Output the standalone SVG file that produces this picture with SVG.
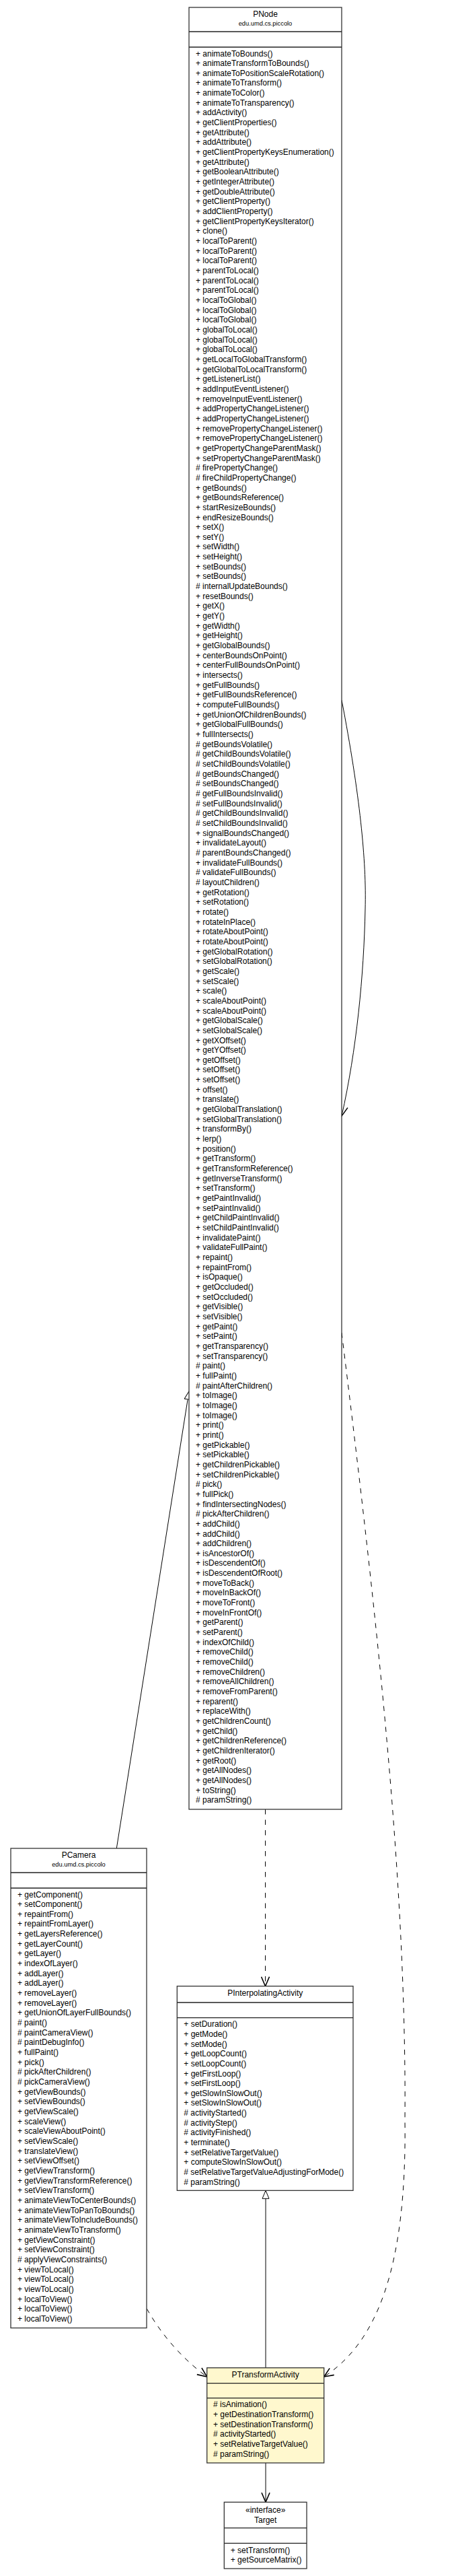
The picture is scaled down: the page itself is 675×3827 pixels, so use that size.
<svg xmlns="http://www.w3.org/2000/svg" width="675" height="3827" viewBox="0 0 675 3827">
<style>
text{font-family:"Liberation Sans",Arial,sans-serif;font-size:12px;fill:#000}
.t{text-anchor:middle}
.pkg{font-size:9.3px;text-anchor:middle}
.box{fill:#fff;stroke:#333;stroke-width:1.3}
.hl{fill:#FFF8CE}
.div{stroke:#222;stroke-width:1.3}
.ln{fill:none;stroke:#000;stroke-width:1}
.dash{stroke-dasharray:7.5,8}
</style>
<defs>
<marker id="gen" viewBox="0 0 13 12" refX="12.5" refY="6" markerWidth="13" markerHeight="12" orient="auto" markerUnits="userSpaceOnUse"><path d="M0.5,1 L12.5,6 L0.5,11 Z" fill="#fff" stroke="#000" stroke-width="1"/></marker>
<marker id="arr" viewBox="-1 -1 16 14" refX="14" refY="6" markerWidth="16" markerHeight="14" orient="auto" markerUnits="userSpaceOnUse"><path d="M0,0 L14,6 L0,12" fill="none" stroke="#000" stroke-width="1.6"/></marker>
</defs>

<g id="connectors">
<path class="ln" d="M508,1040 C535,1180 545,1280 543,1350 C541,1450 530,1560 508,1658" marker-end="url(#arr)"/>
<path class="ln" d="M173.3,2746 L281,2067" marker-end="url(#gen)"/>
<path class="ln dash" d="M394.5,2688 L394.5,2950.7" marker-end="url(#arr)"/>
<path class="ln dash" d="M508,1980 C560,2400 605,2800 602,3150 C605,3370 560,3480 481.7,3531" marker-end="url(#arr)"/>
<path class="ln dash" d="M218.3,3430 C235,3460 265,3500 307.7,3531" marker-end="url(#arr)"/>
<path class="ln" d="M395,3517.7 L395,3254.3" marker-end="url(#gen)"/>
<path class="ln" d="M395,3659 L395,3717.3" marker-end="url(#arr)"/>
</g>

<g id="PNode">
<rect class="box" x="281" y="11" width="227" height="2677"/>
<line class="div" x1="281" y1="47" x2="508" y2="47"/>
<line class="div" x1="281" y1="70" x2="508" y2="70"/>
<text class="t" x="394.5" y="25">PNode</text>
<text class="pkg" x="394.5" y="38">edu.umd.cs.piccolo</text>
<text x="291" y="83.5"><tspan x="291" dy="0">+ animateToBounds()</tspan><tspan x="291" dy="14.66">+ animateTransformToBounds()</tspan><tspan x="291" dy="14.66">+ animateToPositionScaleRotation()</tspan><tspan x="291" dy="14.66">+ animateToTransform()</tspan><tspan x="291" dy="14.66">+ animateToColor()</tspan><tspan x="291" dy="14.66">+ animateToTransparency()</tspan><tspan x="291" dy="14.66">+ addActivity()</tspan><tspan x="291" dy="14.66">+ getClientProperties()</tspan><tspan x="291" dy="14.66">+ getAttribute()</tspan><tspan x="291" dy="14.66">+ addAttribute()</tspan><tspan x="291" dy="14.66">+ getClientPropertyKeysEnumeration()</tspan><tspan x="291" dy="14.66">+ getAttribute()</tspan><tspan x="291" dy="14.66">+ getBooleanAttribute()</tspan><tspan x="291" dy="14.66">+ getIntegerAttribute()</tspan><tspan x="291" dy="14.66">+ getDoubleAttribute()</tspan><tspan x="291" dy="14.66">+ getClientProperty()</tspan><tspan x="291" dy="14.66">+ addClientProperty()</tspan><tspan x="291" dy="14.66">+ getClientPropertyKeysIterator()</tspan><tspan x="291" dy="14.66">+ clone()</tspan><tspan x="291" dy="14.66">+ localToParent()</tspan><tspan x="291" dy="14.66">+ localToParent()</tspan><tspan x="291" dy="14.66">+ localToParent()</tspan><tspan x="291" dy="14.66">+ parentToLocal()</tspan><tspan x="291" dy="14.66">+ parentToLocal()</tspan><tspan x="291" dy="14.66">+ parentToLocal()</tspan><tspan x="291" dy="14.66">+ localToGlobal()</tspan><tspan x="291" dy="14.66">+ localToGlobal()</tspan><tspan x="291" dy="14.66">+ localToGlobal()</tspan><tspan x="291" dy="14.66">+ globalToLocal()</tspan><tspan x="291" dy="14.66">+ globalToLocal()</tspan><tspan x="291" dy="14.66">+ globalToLocal()</tspan><tspan x="291" dy="14.66">+ getLocalToGlobalTransform()</tspan><tspan x="291" dy="14.66">+ getGlobalToLocalTransform()</tspan><tspan x="291" dy="14.66">+ getListenerList()</tspan><tspan x="291" dy="14.66">+ addInputEventListener()</tspan><tspan x="291" dy="14.66">+ removeInputEventListener()</tspan><tspan x="291" dy="14.66">+ addPropertyChangeListener()</tspan><tspan x="291" dy="14.66">+ addPropertyChangeListener()</tspan><tspan x="291" dy="14.66">+ removePropertyChangeListener()</tspan><tspan x="291" dy="14.66">+ removePropertyChangeListener()</tspan><tspan x="291" dy="14.66">+ getPropertyChangeParentMask()</tspan><tspan x="291" dy="14.66">+ setPropertyChangeParentMask()</tspan><tspan x="291" dy="14.66"># firePropertyChange()</tspan><tspan x="291" dy="14.66"># fireChildPropertyChange()</tspan><tspan x="291" dy="14.66">+ getBounds()</tspan><tspan x="291" dy="14.66">+ getBoundsReference()</tspan><tspan x="291" dy="14.66">+ startResizeBounds()</tspan><tspan x="291" dy="14.66">+ endResizeBounds()</tspan><tspan x="291" dy="14.66">+ setX()</tspan><tspan x="291" dy="14.66">+ setY()</tspan><tspan x="291" dy="14.66">+ setWidth()</tspan><tspan x="291" dy="14.66">+ setHeight()</tspan><tspan x="291" dy="14.66">+ setBounds()</tspan><tspan x="291" dy="14.66">+ setBounds()</tspan><tspan x="291" dy="14.66"># internalUpdateBounds()</tspan><tspan x="291" dy="14.66">+ resetBounds()</tspan><tspan x="291" dy="14.66">+ getX()</tspan><tspan x="291" dy="14.66">+ getY()</tspan><tspan x="291" dy="14.66">+ getWidth()</tspan><tspan x="291" dy="14.66">+ getHeight()</tspan><tspan x="291" dy="14.66">+ getGlobalBounds()</tspan><tspan x="291" dy="14.66">+ centerBoundsOnPoint()</tspan><tspan x="291" dy="14.66">+ centerFullBoundsOnPoint()</tspan><tspan x="291" dy="14.66">+ intersects()</tspan><tspan x="291" dy="14.66">+ getFullBounds()</tspan><tspan x="291" dy="14.66">+ getFullBoundsReference()</tspan><tspan x="291" dy="14.66">+ computeFullBounds()</tspan><tspan x="291" dy="14.66">+ getUnionOfChildrenBounds()</tspan><tspan x="291" dy="14.66">+ getGlobalFullBounds()</tspan><tspan x="291" dy="14.66">+ fullIntersects()</tspan><tspan x="291" dy="14.66"># getBoundsVolatile()</tspan><tspan x="291" dy="14.66"># getChildBoundsVolatile()</tspan><tspan x="291" dy="14.66"># setChildBoundsVolatile()</tspan><tspan x="291" dy="14.66"># getBoundsChanged()</tspan><tspan x="291" dy="14.66"># setBoundsChanged()</tspan><tspan x="291" dy="14.66"># getFullBoundsInvalid()</tspan><tspan x="291" dy="14.66"># setFullBoundsInvalid()</tspan><tspan x="291" dy="14.66"># getChildBoundsInvalid()</tspan><tspan x="291" dy="14.66"># setChildBoundsInvalid()</tspan><tspan x="291" dy="14.66">+ signalBoundsChanged()</tspan><tspan x="291" dy="14.66">+ invalidateLayout()</tspan><tspan x="291" dy="14.66"># parentBoundsChanged()</tspan><tspan x="291" dy="14.66">+ invalidateFullBounds()</tspan><tspan x="291" dy="14.66"># validateFullBounds()</tspan><tspan x="291" dy="14.66"># layoutChildren()</tspan><tspan x="291" dy="14.66">+ getRotation()</tspan><tspan x="291" dy="14.66">+ setRotation()</tspan><tspan x="291" dy="14.66">+ rotate()</tspan><tspan x="291" dy="14.66">+ rotateInPlace()</tspan><tspan x="291" dy="14.66">+ rotateAboutPoint()</tspan><tspan x="291" dy="14.66">+ rotateAboutPoint()</tspan><tspan x="291" dy="14.66">+ getGlobalRotation()</tspan><tspan x="291" dy="14.66">+ setGlobalRotation()</tspan><tspan x="291" dy="14.66">+ getScale()</tspan><tspan x="291" dy="14.66">+ setScale()</tspan><tspan x="291" dy="14.66">+ scale()</tspan><tspan x="291" dy="14.66">+ scaleAboutPoint()</tspan><tspan x="291" dy="14.66">+ scaleAboutPoint()</tspan><tspan x="291" dy="14.66">+ getGlobalScale()</tspan><tspan x="291" dy="14.66">+ setGlobalScale()</tspan><tspan x="291" dy="14.66">+ getXOffset()</tspan><tspan x="291" dy="14.66">+ getYOffset()</tspan><tspan x="291" dy="14.66">+ getOffset()</tspan><tspan x="291" dy="14.66">+ setOffset()</tspan><tspan x="291" dy="14.66">+ setOffset()</tspan><tspan x="291" dy="14.66">+ offset()</tspan><tspan x="291" dy="14.66">+ translate()</tspan><tspan x="291" dy="14.66">+ getGlobalTranslation()</tspan><tspan x="291" dy="14.66">+ setGlobalTranslation()</tspan><tspan x="291" dy="14.66">+ transformBy()</tspan><tspan x="291" dy="14.66">+ lerp()</tspan><tspan x="291" dy="14.66">+ position()</tspan><tspan x="291" dy="14.66">+ getTransform()</tspan><tspan x="291" dy="14.66">+ getTransformReference()</tspan><tspan x="291" dy="14.66">+ getInverseTransform()</tspan><tspan x="291" dy="14.66">+ setTransform()</tspan><tspan x="291" dy="14.66">+ getPaintInvalid()</tspan><tspan x="291" dy="14.66">+ setPaintInvalid()</tspan><tspan x="291" dy="14.66">+ getChildPaintInvalid()</tspan><tspan x="291" dy="14.66">+ setChildPaintInvalid()</tspan><tspan x="291" dy="14.66">+ invalidatePaint()</tspan><tspan x="291" dy="14.66">+ validateFullPaint()</tspan><tspan x="291" dy="14.66">+ repaint()</tspan><tspan x="291" dy="14.66">+ repaintFrom()</tspan><tspan x="291" dy="14.66">+ isOpaque()</tspan><tspan x="291" dy="14.66">+ getOccluded()</tspan><tspan x="291" dy="14.66">+ setOccluded()</tspan><tspan x="291" dy="14.66">+ getVisible()</tspan><tspan x="291" dy="14.66">+ setVisible()</tspan><tspan x="291" dy="14.66">+ getPaint()</tspan><tspan x="291" dy="14.66">+ setPaint()</tspan><tspan x="291" dy="14.66">+ getTransparency()</tspan><tspan x="291" dy="14.66">+ setTransparency()</tspan><tspan x="291" dy="14.66"># paint()</tspan><tspan x="291" dy="14.66">+ fullPaint()</tspan><tspan x="291" dy="14.66"># paintAfterChildren()</tspan><tspan x="291" dy="14.66">+ toImage()</tspan><tspan x="291" dy="14.66">+ toImage()</tspan><tspan x="291" dy="14.66">+ toImage()</tspan><tspan x="291" dy="14.66">+ print()</tspan><tspan x="291" dy="14.66">+ print()</tspan><tspan x="291" dy="14.66">+ getPickable()</tspan><tspan x="291" dy="14.66">+ setPickable()</tspan><tspan x="291" dy="14.66">+ getChildrenPickable()</tspan><tspan x="291" dy="14.66">+ setChildrenPickable()</tspan><tspan x="291" dy="14.66"># pick()</tspan><tspan x="291" dy="14.66">+ fullPick()</tspan><tspan x="291" dy="14.66">+ findIntersectingNodes()</tspan><tspan x="291" dy="14.66"># pickAfterChildren()</tspan><tspan x="291" dy="14.66">+ addChild()</tspan><tspan x="291" dy="14.66">+ addChild()</tspan><tspan x="291" dy="14.66">+ addChildren()</tspan><tspan x="291" dy="14.66">+ isAncestorOf()</tspan><tspan x="291" dy="14.66">+ isDescendentOf()</tspan><tspan x="291" dy="14.66">+ isDescendentOfRoot()</tspan><tspan x="291" dy="14.66">+ moveToBack()</tspan><tspan x="291" dy="14.66">+ moveInBackOf()</tspan><tspan x="291" dy="14.66">+ moveToFront()</tspan><tspan x="291" dy="14.66">+ moveInFrontOf()</tspan><tspan x="291" dy="14.66">+ getParent()</tspan><tspan x="291" dy="14.66">+ setParent()</tspan><tspan x="291" dy="14.66">+ indexOfChild()</tspan><tspan x="291" dy="14.66">+ removeChild()</tspan><tspan x="291" dy="14.66">+ removeChild()</tspan><tspan x="291" dy="14.66">+ removeChildren()</tspan><tspan x="291" dy="14.66">+ removeAllChildren()</tspan><tspan x="291" dy="14.66">+ removeFromParent()</tspan><tspan x="291" dy="14.66">+ reparent()</tspan><tspan x="291" dy="14.66">+ replaceWith()</tspan><tspan x="291" dy="14.66">+ getChildrenCount()</tspan><tspan x="291" dy="14.66">+ getChild()</tspan><tspan x="291" dy="14.66">+ getChildrenReference()</tspan><tspan x="291" dy="14.66">+ getChildrenIterator()</tspan><tspan x="291" dy="14.66">+ getRoot()</tspan><tspan x="291" dy="14.66">+ getAllNodes()</tspan><tspan x="291" dy="14.66">+ getAllNodes()</tspan><tspan x="291" dy="14.66">+ toString()</tspan><tspan x="291" dy="14.66"># paramString()</tspan></text>
</g>

<g id="PCamera">
<rect class="box" x="16" y="2746" width="202" height="712.5"/>
<line class="div" x1="16" y1="2782" x2="218" y2="2782"/>
<line class="div" x1="16" y1="2805" x2="218" y2="2805"/>
<text class="t" x="117" y="2760.3">PCamera</text>
<text class="pkg" x="117" y="2773">edu.umd.cs.piccolo</text>
<text x="26" y="2818.5"><tspan x="26" dy="0">+ getComponent()</tspan><tspan x="26" dy="14.66">+ setComponent()</tspan><tspan x="26" dy="14.66">+ repaintFrom()</tspan><tspan x="26" dy="14.66">+ repaintFromLayer()</tspan><tspan x="26" dy="14.66">+ getLayersReference()</tspan><tspan x="26" dy="14.66">+ getLayerCount()</tspan><tspan x="26" dy="14.66">+ getLayer()</tspan><tspan x="26" dy="14.66">+ indexOfLayer()</tspan><tspan x="26" dy="14.66">+ addLayer()</tspan><tspan x="26" dy="14.66">+ addLayer()</tspan><tspan x="26" dy="14.66">+ removeLayer()</tspan><tspan x="26" dy="14.66">+ removeLayer()</tspan><tspan x="26" dy="14.66">+ getUnionOfLayerFullBounds()</tspan><tspan x="26" dy="14.66"># paint()</tspan><tspan x="26" dy="14.66"># paintCameraView()</tspan><tspan x="26" dy="14.66"># paintDebugInfo()</tspan><tspan x="26" dy="14.66">+ fullPaint()</tspan><tspan x="26" dy="14.66">+ pick()</tspan><tspan x="26" dy="14.66"># pickAfterChildren()</tspan><tspan x="26" dy="14.66"># pickCameraView()</tspan><tspan x="26" dy="14.66">+ getViewBounds()</tspan><tspan x="26" dy="14.66">+ setViewBounds()</tspan><tspan x="26" dy="14.66">+ getViewScale()</tspan><tspan x="26" dy="14.66">+ scaleView()</tspan><tspan x="26" dy="14.66">+ scaleViewAboutPoint()</tspan><tspan x="26" dy="14.66">+ setViewScale()</tspan><tspan x="26" dy="14.66">+ translateView()</tspan><tspan x="26" dy="14.66">+ setViewOffset()</tspan><tspan x="26" dy="14.66">+ getViewTransform()</tspan><tspan x="26" dy="14.66">+ getViewTransformReference()</tspan><tspan x="26" dy="14.66">+ setViewTransform()</tspan><tspan x="26" dy="14.66">+ animateViewToCenterBounds()</tspan><tspan x="26" dy="14.66">+ animateViewToPanToBounds()</tspan><tspan x="26" dy="14.66">+ animateViewToIncludeBounds()</tspan><tspan x="26" dy="14.66">+ animateViewToTransform()</tspan><tspan x="26" dy="14.66">+ getViewConstraint()</tspan><tspan x="26" dy="14.66">+ setViewConstraint()</tspan><tspan x="26" dy="14.66"># applyViewConstraints()</tspan><tspan x="26" dy="14.66">+ viewToLocal()</tspan><tspan x="26" dy="14.66">+ viewToLocal()</tspan><tspan x="26" dy="14.66">+ viewToLocal()</tspan><tspan x="26" dy="14.66">+ localToView()</tspan><tspan x="26" dy="14.66">+ localToView()</tspan><tspan x="26" dy="14.66">+ localToView()</tspan></text>
</g>

<g id="PInterpolatingActivity">
<rect class="box" x="263.3" y="2950.7" width="261.7" height="303.6"/>
<line class="div" x1="263.3" y1="2975" x2="525" y2="2975"/>
<line class="div" x1="263.3" y1="2997.7" x2="525" y2="2997.7"/>
<text class="t" x="394.2" y="2965.3">PInterpolatingActivity</text>
<text x="273.3" y="3011.2"><tspan x="273.3" dy="0">+ setDuration()</tspan><tspan x="273.3" dy="14.66">+ getMode()</tspan><tspan x="273.3" dy="14.66">+ setMode()</tspan><tspan x="273.3" dy="14.66">+ getLoopCount()</tspan><tspan x="273.3" dy="14.66">+ setLoopCount()</tspan><tspan x="273.3" dy="14.66">+ getFirstLoop()</tspan><tspan x="273.3" dy="14.66">+ setFirstLoop()</tspan><tspan x="273.3" dy="14.66">+ getSlowInSlowOut()</tspan><tspan x="273.3" dy="14.66">+ setSlowInSlowOut()</tspan><tspan x="273.3" dy="14.66"># activityStarted()</tspan><tspan x="273.3" dy="14.66"># activityStep()</tspan><tspan x="273.3" dy="14.66"># activityFinished()</tspan><tspan x="273.3" dy="14.66">+ terminate()</tspan><tspan x="273.3" dy="14.66">+ setRelativeTargetValue()</tspan><tspan x="273.3" dy="14.66">+ computeSlowInSlowOut()</tspan><tspan x="273.3" dy="14.66"># setRelativeTargetValueAdjustingForMode()</tspan><tspan x="273.3" dy="14.66"># paramString()</tspan></text>
</g>

<g id="PTransformActivity">
<rect class="box hl" x="307.7" y="3517.7" width="174" height="141.3"/>
<line class="div" x1="307.7" y1="3540.7" x2="481.7" y2="3540.7"/>
<line class="div" x1="307.7" y1="3562.7" x2="481.7" y2="3562.7"/>
<text class="t" x="394.7" y="3532">PTransformActivity</text>
<text x="317" y="3576.2"><tspan x="317" dy="0"># isAnimation()</tspan><tspan x="317" dy="14.66">+ getDestinationTransform()</tspan><tspan x="317" dy="14.66">+ setDestinationTransform()</tspan><tspan x="317" dy="14.66"># activityStarted()</tspan><tspan x="317" dy="14.66">+ setRelativeTargetValue()</tspan><tspan x="317" dy="14.66"># paramString()</tspan></text>
</g>

<g id="Target">
<rect class="box" x="333.3" y="3717.3" width="122.7" height="98.7"/>
<line class="div" x1="333.3" y1="3755.7" x2="456" y2="3755.7"/>
<line class="div" x1="333.3" y1="3778.3" x2="456" y2="3778.3"/>
<text class="t" x="394.7" y="3732.6">«interface»</text>
<text class="t" x="394.7" y="3747.6">Target</text>
<text x="342.7" y="3792.5"><tspan x="342.7" dy="0">+ setTransform()</tspan><tspan x="342.7" dy="14.3">+ getSourceMatrix()</tspan></text>
</g>
</svg>
